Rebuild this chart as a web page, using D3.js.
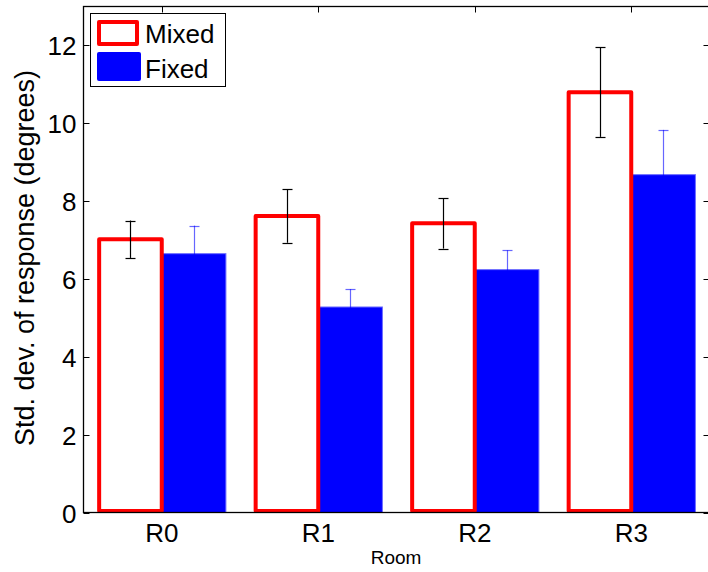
<!DOCTYPE html>
<html><head><meta charset="utf-8">
<script src="https://cdn.jsdelivr.net/npm/d3@7"></script>
<style>body{margin:0;background:#fff}svg{display:block}text{font-family:"Liberation Sans",Arial,sans-serif}</style>
</head><body>
<svg id="c" width="708" height="572"></svg>
<script>
const rooms = ["R0","R1","R2","R3"];
const mixedVals = [7.02, 7.62, 7.43, 10.80];
const mixedErr  = [0.48, 0.69, 0.65, 1.15];
const fixedVals = [6.65, 5.28, 6.24, 8.68];
const fixedErr  = [0.72, 0.46, 0.50, 1.15];
const yTicks = [0,2,4,6,8,10,12];
const seriesNames = ["Mixed","Fixed"];

const svg = d3.select("#c");
const L = 83.5, R = 709.5, T = 6.5, B = 512.5;
const x = d3.scaleLinear().domain([0.5, 4.5]).range([L, R]);
const y = d3.scaleLinear().domain([0, 13]).range([B, T]);

// bars
const g = svg.append("g");
rooms.forEach((r, i) => {
  const c = i + 1;
  g.append("rect")
    .attr("x", x(c)).attr("y", y(fixedVals[i]))
    .attr("width", x(c + 0.41) - x(c)).attr("height", y(0) - y(fixedVals[i]))
    .attr("fill", "#0000ff").attr("stroke", "#6f6fff").attr("stroke-width", 1);
  g.append("rect")
    .attr("x", x(c - 0.4)).attr("y", y(mixedVals[i]))
    .attr("width", x(c) - x(c - 0.4)).attr("height", y(0) - y(mixedVals[i]) - 1.5)
    .attr("fill", "none").attr("stroke", "#ff0000").attr("stroke-width", 4)
    .attr("stroke-linejoin", "round");
});
function errBar(cx, v, e, col) {
  const xp = Math.round(cx) + 0.5;
  g.append("line").attr("x1", xp).attr("x2", xp).attr("y1", y(v - e)).attr("y2", y(v + e)).attr("stroke", col).attr("stroke-width", 1.2);
  [v - e, v + e].forEach(t => {
    g.append("line").attr("x1", xp - 5).attr("x2", xp + 5).attr("y1", Math.round(y(t)) + 0.5).attr("y2", Math.round(y(t)) + 0.5).attr("stroke", col).attr("stroke-width", 1.2);
  });
}
rooms.forEach((r, i) => {
  const c = i + 1;
  errBar(x(c - 0.2), mixedVals[i], mixedErr[i], "#000");
  errBar(x(c + 0.205), fixedVals[i], fixedErr[i], "rgba(0,0,255,0.6)");
});

// axes frame
svg.append("rect").attr("x", L).attr("y", T).attr("width", R - L).attr("height", B - T)
  .attr("fill", "none").attr("stroke", "#000").attr("stroke-width", 1.3);

const ya = svg.append("g");
yTicks.forEach(t => {
  const yp = Math.round(y(t)) + 0.5;
  ya.append("line").attr("x1", L).attr("x2", L + 6).attr("y1", yp).attr("y2", yp).attr("stroke", "#000");
  ya.append("line").attr("x1", R - 6).attr("x2", R).attr("y1", yp).attr("y2", yp).attr("stroke", "#000");
  ya.append("text").attr("x", L - 7).attr("y", yp).attr("dy", "0.36em").attr("text-anchor", "end")
    .attr("font-size", 26).text(t);
});
rooms.forEach((r, i) => {
  const xp = Math.round(x(i + 1)) + 0.5;
  svg.append("line").attr("x1", xp).attr("x2", xp).attr("y1", T).attr("y2", T + 6).attr("stroke", "#000");
  svg.append("text").attr("x", x(i + 1)).attr("y", 542).attr("text-anchor", "middle")
    .attr("font-size", 26).text(r);
});
svg.append("text").attr("x", 396).attr("y", 564).attr("text-anchor", "middle").attr("font-size", 19).text("Room");
svg.append("text").attr("transform", "translate(34,258) rotate(-90)").attr("text-anchor", "middle")
  .attr("font-size", 27).text("Std. dev. of response (degrees)");

// legend
const lg = svg.append("g");
lg.append("rect").attr("x", 90.5).attr("y", 13.5).attr("width", 135).attr("height", 73)
  .attr("fill", "#fff").attr("stroke", "#000").attr("stroke-width", 1);
lg.append("rect").attr("x", 99).attr("y", 22).attr("width", 38).attr("height", 22)
  .attr("fill", "none").attr("stroke", "#ff0000").attr("stroke-width", 4).attr("stroke-linejoin", "round");
lg.append("rect").attr("x", 97).attr("y", 52).attr("width", 44).attr("height", 29).attr("rx", 2)
  .attr("fill", "#0000ff");
lg.append("text").attr("x", 145).attr("y", 43).attr("font-size", 26).text(seriesNames[0]);
lg.append("text").attr("x", 145).attr("y", 78).attr("font-size", 26).text(seriesNames[1]);
</script>
</body></html>
